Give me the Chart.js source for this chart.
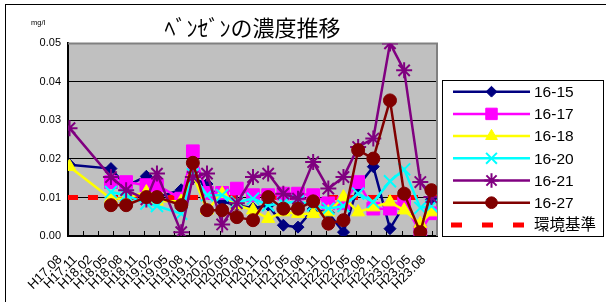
<!DOCTYPE html>
<html>
<head>
<meta charset="utf-8">
<script src="https://cdn.jsdelivr.net/npm/chart.js"></script>
<style>
  html, body { margin: 0; padding: 0; background: #fff; }
</style>
</head>
<body>
<canvas id="chart" width="606" height="302"></canvas>
<script>
// sampling dates, in months counted from H17.08 (not evenly spaced)
const sampleMonths = [0.3, 8.5, 11.5, 15.5, 17.6, 22.4, 24.7, 27.5, 30.5, 33.4, 36.6, 39.6,
  42.6, 45.5, 48.5, 51.5, 54.5, 57.4, 60.4, 63.7, 66.5, 69.7, 71.9];

const tickLabels = ['H17.08', 'H17.11', 'H18.02', 'H18.05', 'H18.08', 'H18.11', 'H19.02',
  'H19.05', 'H19.08', 'H19.11', 'H20.02', 'H20.05', 'H20.08', 'H20.11', 'H21.02', 'H21.05',
  'H21.08', 'H21.11', 'H22.02', 'H22.05', 'H22.08', 'H22.11', 'H23.02', 'H23.05', 'H23.08'];
const tickStep = 3; // months between tick labels

// mg/l
const s1615 = [0.0185, 0.0175, 0.013, 0.0155, 0.010, 0.012, 0.015, 0.0135, 0.009, 0.008, 0.0072, 0.008,
  0.0028, 0.0023, 0.007, 0.006, 0.001, 0.013, 0.018, 0.0019, 0.008, 0.002, 0.0095];
const s1617 = [null, 0.014, 0.014, 0.0132, 0.0132, 0.0097, 0.022, 0.0112, 0.0112, 0.0123, 0.0106, 0.0106,
  0.011, 0.011, 0.0106, 0.0085, 0.0085, 0.014, 0.0071, 0.0071, 0.0085, 0.001, 0.0059];
const s1618 = [0.018, 0.0097, 0.0098, 0.0114, 0.009, 0.009, 0.016, 0.0067, 0.011, 0.008, 0.0067, 0.0045,
  0.0062, 0.0058, 0.0058, 0.0062, 0.0101, 0.0062, 0.0075, 0.0088, 0.0067, 0.0032, 0.0062];
const s1620 = [null, 0.0114, 0.0106, 0.0084, 0.0078, 0.0058, 0.016, 0.0106, 0.0106, 0.0088, 0.0097, 0.008,
  0.0085, 0.009, 0.008, 0.0071, 0.0078, 0.011, 0.0088, 0.0142, 0.0173, 0.0073, 0.0078];
const s1621 = [0.028, 0.0153, 0.0119, 0.0095, 0.0162, 0.001, 0.0153, 0.0162, 0.003, 0.0085, 0.0153, 0.0162,
  0.011, 0.0097, 0.0192, 0.0123, 0.0153, 0.0231, 0.0253, 0.05, 0.043, 0.014, 0.0101];
const s1627 = [null, 0.008, 0.008, 0.0101, 0.0101, 0.008, 0.019, 0.0067, 0.0067, 0.0049, 0.0041, 0.0101,
  0.0071, 0.0071, 0.009, 0.0032, 0.0041, 0.0223, 0.0201, 0.0352, 0.011, 0.001, 0.0119];
const standardValue = 0.01;

const xMin = 0, xMax = 73;

function points(values) {
  return values.map((v, i) => ({ x: sampleMonths[i], y: v }));
}

const seriesList = [
  { label: '16-15', values: s1615, color: '#000080', style: 'rectRot', radius: 6, bw: 1 },
  { label: '16-17', values: s1617, color: '#FF00FF', style: 'rect', radius: 9, bw: 1 },
  { label: '16-18', values: s1618, color: '#FFFF00', style: 'triangle', radius: 7.5, bw: 1 },
  { label: '16-20', values: s1620, color: '#00FFFF', style: 'crossRot', radius: 8.5, bw: 2 },
  { label: '16-21', values: s1621, color: '#800080', style: 'star', radius: 8, bw: 2 },
  { label: '16-27', values: s1627, color: '#800000', style: 'circle', radius: 6.5, bw: 1 }
];

const datasets = seriesList.map((s, i) => ({
  label: s.label,
  data: points(s.values),
  borderColor: s.color,
  borderWidth: 2.5,
  pointStyle: s.style,
  pointRadius: s.radius,
  pointBackgroundColor: s.color,
  pointBorderColor: s.color,
  pointBorderWidth: s.bw,
  order: seriesList.length - i
}));

datasets.push({
  label: '環境基準',
  data: [{ x: xMin, y: standardValue }, { x: xMax, y: standardValue }],
  borderColor: '#FF0000',
  borderWidth: 5,
  borderDash: [10, 10],
  legendDash: [11, 20],
  pointRadius: 0,
  order: 10
});

const plotBackground = {
  id: 'plotBackground',
  beforeDraw(chart) {
    const { ctx, chartArea: a } = chart;
    ctx.save();
    ctx.fillStyle = '#fff';
    ctx.fillRect(0, 0, chart.width, chart.height);
    ctx.fillStyle = '#C0C0C0';
    ctx.fillRect(a.left, a.top, a.right - a.left, a.bottom - a.top);
    // outer frame
    ctx.strokeStyle = '#000';
    ctx.lineWidth = 1;
    ctx.strokeRect(5.5, 4.5, chart.width + 10, chart.height + 10);
    ctx.restore();
  },
  beforeDatasetsDraw(chart) {
    const { ctx, chartArea: a, scales: { x } } = chart;
    ctx.save();
    ctx.strokeStyle = '#808080';
    ctx.lineWidth = 2;
    ctx.beginPath();
    ctx.moveTo(a.left, a.top);
    ctx.lineTo(a.right, a.top);
    ctx.lineTo(a.right, a.bottom);
    ctx.stroke();
    ctx.strokeStyle = '#000';
    ctx.lineWidth = 1;
    x.ticks.forEach(t => {
      const px = Math.round(x.getPixelForValue(t.value)) + 0.5;
      ctx.beginPath();
      ctx.moveTo(px, a.bottom);
      ctx.lineTo(px, a.bottom - 5);
      ctx.stroke();
    });
    ctx.restore();
  },
  afterDraw(chart) {
    const { ctx } = chart;
    ctx.save();
    ctx.fillStyle = '#000';
    ctx.font = "7.5px 'Liberation Sans', Arial, sans-serif";
    ctx.textBaseline = 'alphabetic';
    ctx.fillText('mg/l', 31, 25);
    ctx.restore();
  }
};

const boxLegend = {
  id: 'boxLegend',
  afterDraw(chart) {
    const { ctx } = chart;
    ctx.save();
    ctx.fillStyle = '#fff';
    ctx.fillRect(442.5, 80.5, 161, 156);
    ctx.strokeStyle = '#000';
    ctx.lineWidth = 1;
    ctx.strokeRect(442.5, 80.5, 161, 156);
    chart.data.datasets.forEach((ds, i) => {
      const y = 91.7 + i * 22.2;
      ctx.strokeStyle = ds.borderColor;
      ctx.lineWidth = ds.borderWidth;
      ctx.setLineDash(ds.legendDash || []);
      ctx.beginPath();
      ctx.moveTo(ds.legendDash ? 451 : 453, y);
      ctx.lineTo(530, y);
      ctx.stroke();
      ctx.setLineDash([]);
      if (ds.pointRadius > 0) {
        ctx.fillStyle = ds.pointBackgroundColor;
        ctx.strokeStyle = ds.pointBorderColor;
        ctx.lineWidth = ds.pointBorderWidth;
        Chart.helpers.drawPoint(ctx, {
          pointStyle: ds.pointStyle, radius: ds.pointRadius * 0.9, rotation: 0, borderWidth: ds.pointBorderWidth
        }, 491.5, y);
      }
      ctx.fillStyle = '#000';
      ctx.font = "15.5px 'Liberation Sans', 'Noto Sans CJK JP', sans-serif";
      ctx.textBaseline = 'middle';
      ctx.fillText(ds.label, 534, y + 1);
    });
    ctx.restore();
  }
};

Chart.defaults.font.family = "'Liberation Sans', Arial, sans-serif";
Chart.defaults.color = '#000';

new Chart(document.getElementById('chart'), {
  type: 'line',
  data: { datasets: datasets },
  options: {
    responsive: false,
    animation: false,
    events: [],
    layout: { padding: { left: 0, right: 606 - 437, top: 0, bottom: 0 } },
    plugins: {
      legend: { display: false },
      tooltip: { enabled: false },
      title: {
        display: true,
        text: 'ﾍﾞﾝｾﾞﾝの濃度推移',
        fullSize: false,
        color: '#000',
        font: { family: "'Noto Sans CJK JP', sans-serif", size: 22, weight: 'normal', lineHeight: 1.2 },
        padding: { top: 14, bottom: 3 }
      }
    },
    scales: {
      x: {
        type: 'linear',
        min: xMin,
        max: xMax,
        afterBuildTicks: (scale) => {
          scale.ticks = tickLabels.map((_, i) => ({ value: i * tickStep }));
        },
        afterFit: (scale) => { scale.height = 66; },
        ticks: {
          autoSkip: false,
          minRotation: 45,
          maxRotation: 45,
          padding: 16,
          labelOffset: -8,
          font: { size: 13 },
          color: '#000',
          callback: (v, i) => tickLabels[i]
        },
        grid: { drawOnChartArea: false, drawTicks: false },
        border: { color: '#000', width: 2 }
      },
      y: {
        min: 0,
        max: 0.05,
        afterFit: (scale) => { scale.width = 68; },
        ticks: {
          stepSize: 0.01,
          padding: 7,
          font: { size: 11 },
          color: '#000',
          callback: (v) => v.toFixed(2)
        },
        grid: { color: '#000', lineWidth: 1, drawTicks: false },
        border: { color: '#000', width: 2 }
      }
    }
  },
  plugins: [plotBackground, boxLegend]
});
</script>
</body>
</html>
